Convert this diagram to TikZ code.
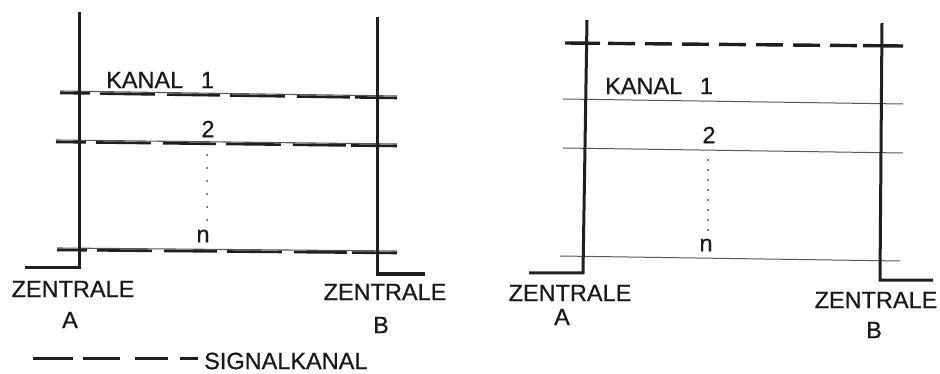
\documentclass[tikz,border=0pt]{standalone}
\usepackage{fontspec}
\setmainfont[FakeBold=0.6]{Liberation Sans}
\begin{document}
\begin{tikzpicture}[x=1pt,y=-1pt,
  ink/.style={draw=black!88},
  station/.style={ink, line width=3pt, line join=miter},
  wire/.style={draw=black!65, line width=1.1pt},
  sigdash/.style={ink, line width=2.6pt,
    dash pattern=on 30pt off 10pt on 55pt off 12pt on 53pt off 10pt on 55pt off 12pt on 53pt off 5pt on 60pt},
  topdash/.style={ink, line width=3.4pt, dash pattern=on 27pt off 10pt},
  lbl/.style={inner sep=0pt, text=black!90, font=\fontsize{23.5}{26}\selectfont},
  dotmark/.style={circle, fill=black!75, inner sep=0pt, minimum size=2pt}
]
\useasboundingbox (0,0) rectangle (940,374);

% ---------- left scheme: signalling channel beside each speech channel ----------
\coordinate (lAt) at (79,12);  \coordinate (lAb) at (79,268); \coordinate (lAf) at (25,268);
\coordinate (lBt) at (377,17); \coordinate (lBb) at (377,274); \coordinate (lBf) at (425,274);

\coordinate (l1a) at (60,91);  \coordinate (l1b) at (397,96);
\coordinate (l2a) at (56,140); \coordinate (l2b) at (397,144);
\coordinate (lna) at (57,248); \coordinate (lnb) at (397,251);

\draw[wire] (l1a) -- (l1b);
\draw[wire] (l2a) -- (l2b);
\draw[wire] (lna) -- (lnb);
\draw[sigdash] ([yshift=-2pt]l1a) -- ([yshift=-2pt]l1b);
\draw[sigdash] ([yshift=-2pt]l2a) -- ([yshift=-2pt]l2b);
\draw[sigdash] ([yshift=-2pt]lna) -- ([yshift=-2pt]lnb);

\draw[station] (lAt) -- (lAb) -- (lAf);
\draw[station] (lBt) -- (lBb) -- (lBf);

\node[lbl, anchor=west] (lk1) at (106,80) {KANAL\hspace{0.75em}1};
\node[lbl] (lk2) at (208,129) {2};
\node[lbl] (lkn) at (203,236) {n};
\foreach \i in {0,...,5} \node[dotmark] (ld\i) at (207,155+13*\i) {};

\node[lbl] (lzA) at (73,289) {ZENTRALE};
\node[lbl] (lA)  at (70,320) {A};
\node[lbl] (lzB) at (385,292) {ZENTRALE};
\node[lbl] (lB)  at (381,325) {B};

% legend
\coordinate (g0) at (33,358);  \coordinate (g1) at (73,358);
\coordinate (g2) at (83,358);  \coordinate (g3) at (120,358);
\coordinate (g4) at (135,358); \coordinate (g5) at (168,358);
\coordinate (g6) at (180,358); \coordinate (g7) at (198,358);
\draw[ink, line width=3pt] (g0) -- (g1) (g2) -- (g3) (g4) -- (g5) (g6) -- (g7);
\node[lbl, anchor=west] (leg) at (204,361) {SIGNALKANAL};

% ---------- right scheme: one common signalling channel ----------
\coordinate (rAt) at (587,20);  \coordinate (rAb) at (583,273); \coordinate (rAf) at (529,273);
\coordinate (rBt) at (882,23);  \coordinate (rBb) at (880,280); \coordinate (rBf) at (933,280);

\coordinate (r1a) at (563,99);  \coordinate (r1b) at (903,104);
\coordinate (r2a) at (563,148); \coordinate (r2b) at (903,153);
\coordinate (rna) at (560,256); \coordinate (rnb) at (900,261);
\draw[wire, line width=1pt] (r1a) -- (r1b);
\draw[wire, line width=1pt] (r2a) -- (r2b);
\draw[wire, line width=1pt] (rna) -- (rnb);

\coordinate (s0) at (565,43);   \coordinate (s1) at (600,43.3);
\coordinate (s2) at (608,43.4); \coordinate (s3) at (857,45.6);
\coordinate (s4) at (863,45.6); \coordinate (s5) at (903,46);
\draw[ink, line width=3.4pt] (s0) -- (s1);
\draw[topdash] (s2) -- (s3);
\draw[ink, line width=3.4pt] (s4) -- (s5);

\draw[station] (rAt) -- (rAb) -- (rAf);
\draw[station] (rBt) -- (rBb) -- (rBf);

\node[lbl, anchor=west] (rk1) at (605,86) {KANAL\hspace{0.75em}1};
\node[lbl] (rk2) at (709,135) {2};
\node[lbl] (rkn) at (706,245) {n};
\foreach \i in {0,...,7} \node[dotmark] (rd\i) at (708,160+10*\i) {};

\node[lbl] (rzA) at (570,293) {ZENTRALE};
\node[lbl] (rA)  at (562,317) {A};
\node[lbl] (rzB) at (876,300) {ZENTRALE};
\node[lbl] (rB)  at (874,330) {B};
\end{tikzpicture}
\end{document}
